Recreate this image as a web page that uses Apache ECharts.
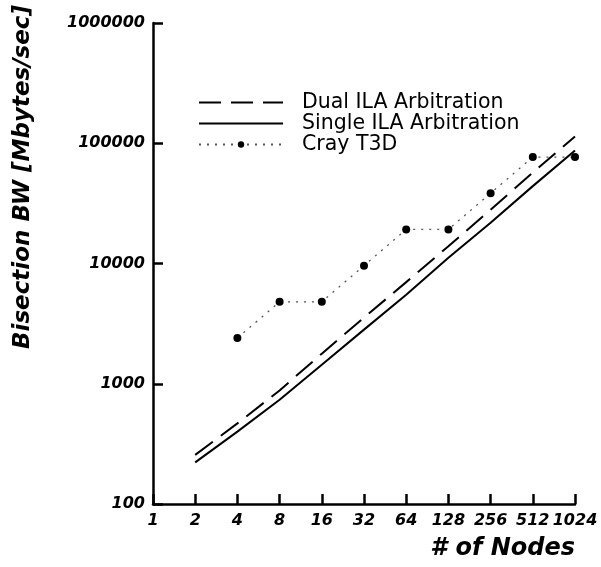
<!DOCTYPE html>
<html>
<head>
<meta charset="utf-8">
<script src="https://cdn.jsdelivr.net/npm/echarts@6/dist/echarts.min.js"></script>
<style>
  html, body { margin: 0; padding: 0; background: #fff; }
  #chart { width: 601px; height: 567px; }
</style>
</head>
<body>
<div id="chart"></div>
<script>
  // categories on the x axis (node counts)
  var nodes = ['1', '2', '4', '8', '16', '32', '64', '128', '256', '512', '1024'];
  // bisection bandwidth, Mbytes/sec (null = no point)
  var dualILA = [null, 256, 468, 880, 1780, 3550, 7000, 13900, 28000, 57000, 114000];
  var singleILA = [null, 222, 400, 736, 1440, 2820, 5500, 11150, 21800, 44000, 87000];
  var crayT3D = [null, null, 2400, 4800, 4800, 9600, 19200, 19200, 38400, 76800, 76800];

  var labelFont = {
    color: '#000',
    fontFamily: 'DejaVu Sans',
    fontWeight: 'bold',
    fontStyle: 'italic',
    fontSize: 16
  };

  var myChart = echarts.init(document.getElementById('chart'));
  var option = {
    animation: false,
    backgroundColor: '#fff',
    grid: { left: 153, right: 26, top: 23, bottom: 63 },
    legend: {
      orient: 'vertical',
      left: 193,
      top: 87,
      itemWidth: 84,
      itemHeight: 8,
      itemGap: 0,
      textStyle: {
        color: '#000',
        fontFamily: 'DejaVu Sans',
        fontSize: 20.5,
        padding: [0, 0, 0, 14]
      },
      data: [
        { name: 'Dual ILA Arbitration', itemStyle: { opacity: 0 } },
        { name: 'Single ILA Arbitration', itemStyle: { opacity: 0 } },
        { name: 'Cray T3D' }
      ]
    },
    xAxis: {
      type: 'category',
      data: nodes,
      boundaryGap: false,
      axisLine: { lineStyle: { color: '#000', width: 2.5 } },
      axisTick: { inside: true, length: 10, lineStyle: { color: '#000', width: 2.5 } },
      axisLabel: Object.assign({ margin: 9, interval: 0 }, labelFont)
    },
    yAxis: {
      type: 'log',
      logBase: 10,
      min: 100,
      max: 1000000,
      splitNumber: 4,
      splitLine: { show: false },
      axisLine: { show: true, lineStyle: { color: '#000', width: 2.5 } },
      axisTick: { show: true, inside: true, length: 10, lineStyle: { color: '#000', width: 2.5 } },
      axisLabel: Object.assign({
        margin: 8,
        formatter: function (v) { return String(Math.round(v)); }
      }, labelFont)
    },
    graphic: [
      {
        type: 'text',
        x: 23, y: 177,
        rotation: Math.PI / 2,
        style: {
          text: 'Bisection BW [Mbytes/sec]',
          fill: '#000',
          font: 'italic bold 23px "DejaVu Sans"',
          align: 'center',
          verticalAlign: 'middle'
        }
      },
      {
        type: 'text',
        right: 26, top: 537,
        style: {
          text: '# of Nodes',
          fill: '#000',
          font: 'italic bold 24px "DejaVu Sans"'
        }
      }
    ],
    series: [
      {
        name: 'Dual ILA Arbitration',
        type: 'line',
        data: dualILA,
        showSymbol: false,
        symbol: 'none',
        lineStyle: { color: '#000', width: 2, type: [22, 10] },
        itemStyle: { color: '#000' }
      },
      {
        name: 'Single ILA Arbitration',
        type: 'line',
        data: singleILA,
        showSymbol: false,
        symbol: 'none',
        lineStyle: { color: '#000', width: 2 },
        itemStyle: { color: '#000' }
      },
      {
        name: 'Cray T3D',
        type: 'line',
        data: crayT3D,
        symbol: 'circle',
        symbolSize: 8,
        lineStyle: { color: '#555', width: 1.3, type: [2, 6] },
        itemStyle: { color: '#000' }
      }
    ]
  };
  myChart.setOption(option);
</script>
</body>
</html>
